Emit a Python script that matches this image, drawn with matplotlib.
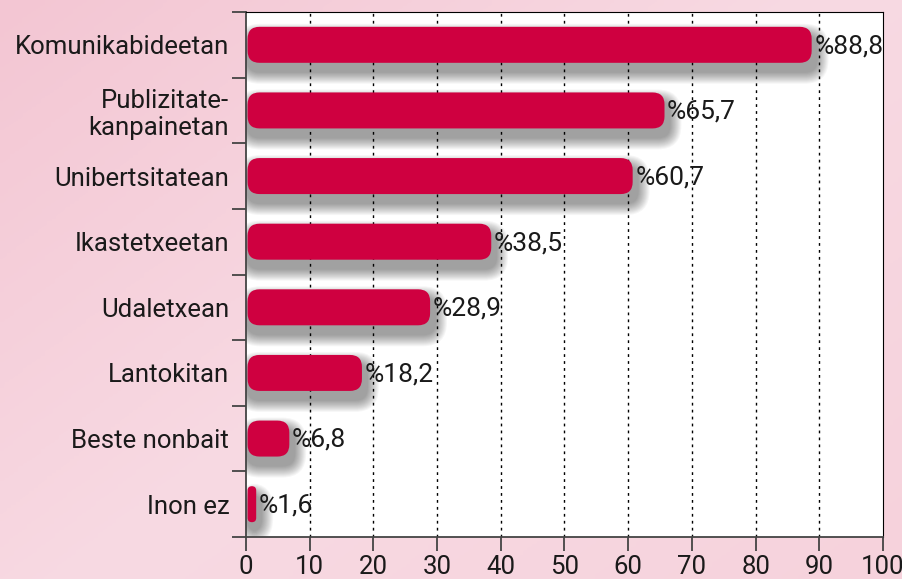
import numpy as np
import matplotlib
matplotlib.use('Agg')
from matplotlib import pyplot as plt
from matplotlib.patches import FancyBboxPatch
from matplotlib.colors import LinearSegmentedColormap

categories = ['Komunikabideetan', 'Publizitate-\nkanpainetan', 'Unibertsitatean',
              'Ikastetxeetan', 'Udaletxean', 'Lantokitan', 'Beste nonbait', 'Inon ez']
values = [88.8, 65.7, 60.7, 38.5, 28.9, 18.2, 6.8, 1.6]
labels = ['%88,8', '%65,7', '%60,7', '%38,5', '%28,9', '%18,2', '%6,8', '%1,6']
xticks = [0, 10, 20, 30, 40, 50, 60, 70, 80, 90, 100]

plt.rcParams['font.family'] = ['Roboto', 'DejaVu Sans']

fig = plt.figure(figsize=(9.03, 5.79), dpi=100)

# pink gradient background
bg = fig.add_axes([0, 0, 1, 1], zorder=-10)
gx, gy = np.meshgrid(np.linspace(0, 1, 200), np.linspace(0, 1, 200))
grad = 0.55 * gx + 0.45 * gy
cmap = LinearSegmentedColormap.from_list('pk', ['#F3C6D3', '#F8DAE3', '#F6D2DC'])
bg.imshow(grad, cmap=cmap, aspect='auto', extent=[0, 1, 0, 1], origin='upper')
bg.axis('off')

W, H = 903, 579
left, right, top, bottom = 246, 883, 12, 537
ax = fig.add_axes([left / W, 1 - bottom / H, (right - left) / W, (bottom - top) / H])
ax.set_facecolor('white')

n = len(categories)
ys = np.arange(n)
ax.set_xlim(0, 100)
ax.set_ylim(n - 0.5, -0.5)

# px per data unit
px_x = (right - left) / 100.0
px_y = (bottom - top) / n
aspect = px_x / px_y
bar_h = 36 / px_y
r = 12 / px_x

for y, v, lbl in zip(ys, values, labels):
    # soft shadow: stacked translucent rounded boxes, shifted down
    nl = 12
    for k in range(nl):
        g = (nl - k) * 1.0  # growth in px
        w = v + (3 + 2 * g) / px_x
        sh = FancyBboxPatch((0.3 - g / px_x, y - bar_h / 2 + (9 - g) / px_y),
                            w, bar_h + 2 * g / px_y,
                            boxstyle='round,pad=0,rounding_size=%f' % (r + g / px_x),
                            mutation_aspect=aspect, fc='black', ec='none',
                            alpha=0.035, zorder=2, clip_on=True)
        ax.add_patch(sh)
    p = FancyBboxPatch((0.25, y - bar_h / 2), v - 0.25, bar_h,
                       boxstyle='round,pad=0,rounding_size=%f' % min(r, (v - 0.25) / 2),
                       mutation_aspect=aspect, fc='#CF0040', ec='none', zorder=3)
    ax.add_patch(p)
    ax.text(v + 0.4, y + 0.02, lbl, va='center', ha='left',
            fontsize=19, color='#1a1a1a', zorder=4)

ax.set_xticks(xticks)
ax.set_xticklabels([str(t) for t in xticks], fontsize=18.5, color='#1a1a1a')
ax.tick_params(axis='x', length=10, width=1.3, color='#444444', pad=3)
ax.set_yticks(ys)
ax.set_yticklabels(categories, fontsize=18.5, color='#1a1a1a', linespacing=1.15)
ax.tick_params(axis='y', which='major', length=0, pad=12)
ax.set_yticks(np.arange(-0.5, n, 1), minor=True)
ax.tick_params(axis='y', which='minor', length=10, width=1.3, color='#444444')

for t in xticks[1:-1]:
    ax.axvline(t, color='black', lw=1, ls=(0, (2, 3)), zorder=1)

ax.spines['left'].set_color('#444444')
ax.spines['left'].set_linewidth(1.3)
ax.spines['bottom'].set_color('#444444')
ax.spines['bottom'].set_linewidth(1.3)
ax.spines['top'].set_color('black')
ax.spines['right'].set_color('black')

fig.savefig('out.png', dpi=100)
